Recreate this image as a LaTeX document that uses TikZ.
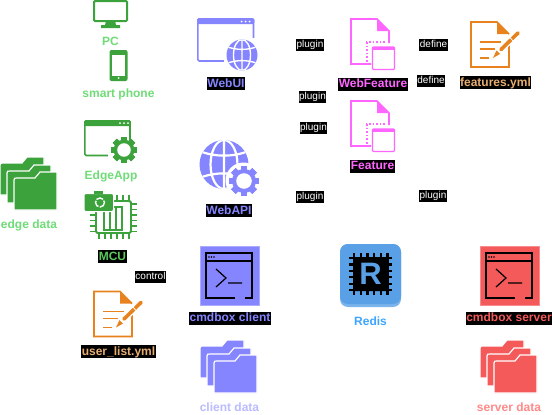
\documentclass[tikz,border=0pt]{standalone}
\usepackage{fontspec}
\setmainfont{Liberation Sans}
\definecolor{edgegreen}{HTML}{3CA23C}
\definecolor{edgelabel}{HTML}{70DC78}
\definecolor{mculabel}{HTML}{58C85C}
\definecolor{clientblue}{HTML}{8585FF}
\definecolor{clientlabel}{HTML}{BBBBFF}
\definecolor{featpink}{HTML}{FF66FF}
\definecolor{ymlorange}{HTML}{E8821E}
\definecolor{ymllabel}{HTML}{E8AE70}
\definecolor{serverred}{HTML}{F55A5A}
\definecolor{serverlabel}{HTML}{FF8A8A}
\definecolor{redisblue}{HTML}{5AA0E6}
\definecolor{redislabel}{HTML}{3DA5FF}
\tikzset{
    lbl/.style={font=\fontsize{12}{14}\selectfont\bfseries,inner sep=0.5pt,text height=9.5pt,text depth=2.8pt,yshift=-0.7pt},
    tag/.style={lbl,fill=black},
    edgelbl/.style={fill=black,text=white,font=\fontsize{10}{12}\selectfont,inner sep=0.6pt,text height=8pt,text depth=2.6pt,yshift=-0.6pt},
    pics/folders/.style={code={
        \foreach \xl/\xr/\yt/\yb in {0/44/0/38, 7/51/8/46, 14/57/15/53}
            \fill[#1,draw=white,line width=1.2pt] (\xl,\yt+8) .. controls (\xl,\yt+6) and (\xl+1,\yt+6) .. (\xl+3,\yt+6)
                -- (\xr-22,\yt+6) -- (\xr-17,\yt) -- (\xr,\yt) -- (\xr,\yb) -- (\xl,\yb) -- cycle;
    }},
    pics/gear/.style 2 args={code={
        \foreach \a in {0,45,...,315}
            \fill[#1,rotate=\a] (-0.22*#2,-#2) rectangle (0.22*#2,#2);
        \fill[#1] (0,0) circle (0.8*#2);
        \fill[white] (0,0) circle (0.52*#2);
    }},
    pics/globe/.style 2 args={code={
        \fill[#1] (0,0) circle (#2);
        \begin{scope}
            \clip (0,0) circle (#2);
            \draw[white,line width=0.09*#2 pt] (0,-#2) -- (0,#2)
                (-#2,-0.55*#2) .. controls (-0.4*#2,-0.3*#2) and (0.4*#2,-0.3*#2) .. (#2,-0.55*#2)
                (-#2,0.55*#2) .. controls (-0.4*#2,0.3*#2) and (0.4*#2,0.3*#2) .. (#2,0.55*#2)
                (0,0) ellipse [x radius=0.55*#2,y radius=#2];
        \end{scope}
    }},
    pics/winframe/.style n args={3}{code={
        % outline and title bar
        \draw[#1,line width=1.6pt,rounded corners=1.5pt] (0.8,0.8) rectangle (#2,#3);
        \fill[#1,rounded corners=1.5pt] (0,0) rectangle (#2+0.8,6);
    }},
    pics/terminal/.style={code={
        \fill[#1,draw=#1!70!white,line width=0.8pt] (0,0) rectangle (59,59);
        \draw[black,line width=1.3pt] (35,52) -- (6,52) -- (6,7) -- (52,7) -- (52,52) -- (45,52)
            (6,15) -- (52,15);
        \foreach \x in {9,11.5,14}
            \fill[black] (\x,11) circle (0.8);
        \draw[black,line width=1.2pt] (16,23) -- (26,32) -- (16,41) (28,37) -- (42,37);
    }},
    pics/featdoc/.style={code={
        \draw[featpink,line width=1.6pt] (39,25) -- (39,13) -- (27,1) -- (1,1) -- (1,46) -- (21,46);
        \fill[featpink] (27,1) -- (39,13) -- (27,13) -- cycle;
        \draw[featpink,line width=1.6pt,dotted] (35,24) -- (17,24) -- (17,45);
        \fill[white] (22,46) -- (28,52) -- (45,52) -- (45,32) -- (39,26) -- (22,26) -- cycle;
        \draw[featpink,line width=1.2pt,rounded corners=1pt] (22.5,29) rectangle (44.5,51.5);
        \fill[featpink] (22,28.5) rectangle (45,32);
    }},
    pics/notedoc/.style={code={
        \draw[ymlorange,line width=1.6pt] (39,20) -- (39,46) -- (1,46) -- (1,1) -- (27,1) -- (39,13);
        \fill[ymlorange] (27,1) -- (39,13) -- (27,13) -- cycle;
        \draw[ymlorange,line width=1.6pt] (10,21) -- (31,21) (10,28) -- (25,28) (10,37) -- (19,37);
        \draw[white,line width=6.5pt] (26,33) -- (46,14);
        \draw[ymlorange,line width=3.6pt,line cap=round] (31,28.5) -- (48,12);
        \draw[white,line width=0.8pt] (40,16.5) -- (43,20);
        \fill[ymlorange] (23,37) -- (26.5,29.5) -- (30,33) -- cycle;
    }},
}
\begin{document}
\begin{tikzpicture}[x=1pt,y=-1pt]
    \useasboundingbox[fill=white] (0,0) rectangle (552,415);

    % PC and phone
    \draw[edgegreen,line width=2pt,rounded corners=1pt] (94,1) rectangle (127,21);
    \fill[edgegreen] (106,21) -- (115,21) -- (116,25) -- (120,25) -- (120,28) -- (101,28) -- (101,25) -- (105,25) -- cycle;
    \node[lbl,text=edgelabel] (pc) at (110.5,41) {PC};
    \fill[edgegreen,rounded corners=2pt] (109.5,50) rectangle (127.5,81);
    \fill[white] (112,54.5) rectangle (125,75.5);
    \fill[white] (118.5,78) circle (1);
    \node[lbl,text=edgelabel] (phone) at (118.5,93.5) {smart phone};

    % Edge side
    \pic (edgewin) at (84,120) {winframe={edgegreen}{46}{35.5}};
    \foreach \x in {120,124,128}
        \fill[white] (\x,123.2) circle (1);
    \fill[white] (108,141) rectangle (140,166);
    \pic (edgegear) at (124,150) {gear={edgegreen}{13}};
    \node[lbl,text=edgelabel] (edgeapp) at (111,175.5) {EdgeApp};
    \pic (edgefolder) at (0,157) {folders=edgegreen};
    \node[lbl,text=edgelabel] (edgedata) at (29,224) {edge data};

    % MCU with camera
    \foreach \p in {0,...,5} {
        \draw[edgegreen,line width=1.5pt] (99+\p*6,195) -- (99+\p*6,239)
            (90,204+\p*5.5) -- (137,204+\p*5.5);
    }
    \fill[white,draw=edgegreen,line width=1.8pt,rounded corners=1.5pt] (96,201) rectangle (131,233);
    \draw[edgegreen,line width=1.5pt] (104,207) rectangle (110,230) (110,207) rectangle (116,230) (116,207) rectangle (122,230);
    \fill[edgegreen,draw=white,line width=1pt,rounded corners=2pt] (84,193.5) rectangle (113.5,211.5);
    \fill[edgegreen] (94,190.5) rectangle (103,194);
    \draw[white,line width=1.4pt,dash pattern=on 7pt off 1.5pt] (100,202.5) circle (4.5);
    \node[tag,text=mculabel] (mcu) at (112.5,256) {MCU};
    \node[edgelbl] (control) at (150.5,276) {control};
    \pic (usernote) at (93,290.5) {notedoc};
    \node[tag,text=ymllabel] (userlist) at (118.5,351) {user\_list.yml};

    % Web layer
    \pic (webuiwin) at (197,18) {winframe={clientblue}{56.5}{43}};
    \foreach \x in {241.5,245.5,249.5}
        \fill[white] (\x,21.5) circle (1);
    \fill[white] (224,38) rectangle (258,71);
    \pic (webuiglobe) at (242,55) {globe={clientblue}{15.5}};
    \node[tag,text=clientblue] (webui) at (226,83) {WebUI};
    \pic (webapiglobe) at (224,164.5) {globe={clientblue}{24.5}};
    \fill[white] (243.5,180.5) circle (18);
    \pic (webapigear) at (244,181) {gear={clientblue}{15}};
    \node[tag,text=clientblue] (webapi) at (229,210) {WebAPI};

    % Features
    \pic (webfeatdoc) at (350,18) {featdoc};
    \node[tag,text=featpink] (webfeature) at (373,83.5) {WebFeature};
    \pic (featdoc) at (350,100) {featdoc};
    \node[tag,text=featpink] (feature) at (372.5,165.5) {Feature};
    \pic (featnote) at (470,21) {notedoc};
    \node[tag,text=ymllabel] (featyml) at (495.5,82) {features.yml};

    % Edge labels
    \node[edgelbl] (plugina) at (310,44) {plugin};
    \node[edgelbl] (pluginb) at (312.5,96) {plugin};
    \node[edgelbl] (pluginc) at (313.5,127) {plugin};
    \node[edgelbl] (plugind) at (310,196) {plugin};
    \node[edgelbl] (plugine) at (433,195) {plugin};
    \node[edgelbl] (definea) at (433.5,44) {define};
    \node[edgelbl] (defineb) at (431,80) {define};

    % Client and server
    \pic (clientterm) at (200,246) {terminal=clientblue};
    \node[tag,text=clientblue] (client) at (230,317.5) {cmdbox client};
    \pic (clientfolder) at (200,340) {folders=clientblue};
    \node[lbl,text=clientlabel] (clientdata) at (229.5,407) {client data};
    \pic (serverterm) at (480,246) {terminal=serverred};
    \node[tag,text=serverred] (server) at (509,317.5) {cmdbox server};
    \pic (serverfolder) at (480,340) {folders=serverred};
    \node[lbl,text=serverlabel] (serverdata) at (509,407) {server data};

    % Redis
    \fill[redisblue!80!white,rounded corners=8pt] (340,244) rectangle (401,307);
    \fill[redisblue,rounded corners=8pt] (340,244) rectangle (401,304);
    \foreach \p in {0,...,5} {
        \draw[black,line width=2.2pt] (354+\p*6.7,253) -- (354+\p*6.7,295)
            (349,258+\p*6.4) -- (392,258+\p*6.4);
    }
    \fill[black,rounded corners=1pt] (353,257) rectangle (388,291);
    \node[text=redisblue,font=\fontsize{31}{31}\selectfont\bfseries,inner sep=0pt] (redisr) at (370.5,274) {R};
    \node[lbl,text=redislabel] (redis) at (370.5,321) {Redis};
\end{tikzpicture}
\end{document}
